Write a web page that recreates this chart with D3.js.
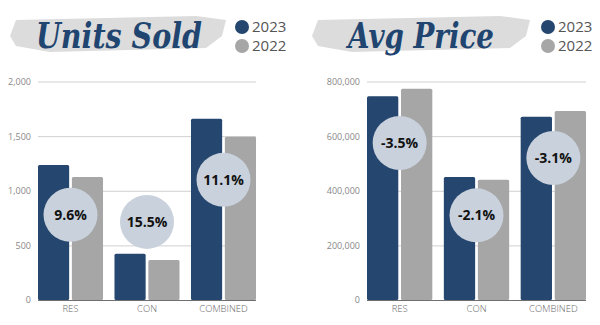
<!DOCTYPE html>
<html><head><meta charset="utf-8">
<script src="https://cdn.jsdelivr.net/npm/d3@7"></script>
<style>body{margin:0;background:#fff}svg{display:block}</style>
</head><body>
<script>
const categories = ["RES", "CON", "COMBINED"];
const seriesNames = ["2023", "2022"];
const units2023 = [1235, 424, 1659];
const units2022 = [1127, 367, 1494];
const unitsChange = ["9.6%", "15.5%", "11.1%"];
const unitsBadgeAt = [780, 715, 1100];
const unitsTicks = [0, 500, 1000, 1500, 2000];
const price2023 = [746000, 450000, 671000];
const price2022 = [773000, 440000, 692000];
const priceChange = ["-3.5%", "-2.1%", "-3.1%"];
const priceBadgeAt = [575000, 310000, 520000];
const priceTicks = [0, 200000, 400000, 600000, 800000];

const W = 600, H = 325;
const colors = {"2023": "#24466f", "2022": "#a6a6a6"};
const svg = d3.select("body").append("svg").attr("width", W).attr("height", H);

function panel(opt) {
  const g = svg.append("g");
  // brush stroke
  const b = opt.brush;
  const brush = d3.path();
  brush.moveTo(b[0] + 6, b[1] + 6);
  brush.lineTo(b[2] - 30, b[1] + 2);
  brush.lineTo(b[2], b[1] + 6);
  brush.lineTo(b[2] - 4, b[1] + 22);
  brush.lineTo(b[2] - 20, b[3] - 4);
  brush.lineTo(b[0] + 40, b[3]);
  brush.lineTo(b[0] + 6, b[3] - 6);
  brush.lineTo(b[0], b[1] + 22);
  brush.closePath();
  g.append("path").attr("d", brush.toString()).attr("fill", "#dcdcdc");
  g.append("text").attr("x", opt.titleX).attr("y", 48)
    .attr("font-family", "'DejaVu Serif', serif").attr("font-style", "italic").attr("font-weight", "bold")
    .attr("font-size", 36).attr("fill", "#1f4570")
    .attr("textLength", opt.titleW).attr("lengthAdjust", "spacingAndGlyphs")
    .text(opt.title);
  // legend
  seriesNames.forEach((s, i) => {
    g.append("circle").attr("cx", opt.legX).attr("cy", 27 + i * 19).attr("r", 7).attr("fill", colors[s]);
    g.append("text").attr("x", opt.legX + 10).attr("y", 27 + i * 19).attr("dy", "0.35em")
      .attr("font-family", "'Open Sans', sans-serif").attr("font-size", 15).attr("fill", "#555").text(s);
  });

  const x = d3.scaleBand().domain(categories).range([opt.x0, opt.x1]).paddingInner(0.15).paddingOuter(0);
  const xs = d3.scaleBand().domain(seriesNames).range([0, x.bandwidth()]).paddingInner(0.08);
  const y = d3.scaleLinear().domain([0, opt.ticks[opt.ticks.length - 1]]).range([300, 81.5]);

  const ax = g.append("g").attr("transform", `translate(${opt.x0},0)`)
    .call(d3.axisLeft(y).tickValues(opt.ticks).tickSize(-(opt.x1 - opt.x0)).tickPadding(7).tickFormat(d3.format(",")));
  ax.select(".domain").remove();
  ax.selectAll(".tick line").attr("stroke", "#d0d0d0").attr("stroke-width", 1);
  ax.selectAll(".tick text").attr("fill", "#888").attr("font-size", 9).attr("font-family", "'Open Sans', sans-serif");

  const rows = categories.map((c, i) => ({c, i, vals: [opt.a[i], opt.b[i]]}));
  const grp = g.selectAll(".grp").data(rows).enter().append("g").attr("transform", d => `translate(${x(d.c)},0)`);
  grp.selectAll("rect").data(d => d.vals.map((v, j) => ({s: seriesNames[j], v}))).enter().append("rect")
    .attr("x", d => xs(d.s)).attr("width", xs.bandwidth())
    .attr("y", d => y(d.v)).attr("height", d => y(0) - y(d.v))
    .attr("rx", 1.5).attr("fill", d => colors[d.s]);

  g.append("line").attr("x1", opt.x0).attr("x2", opt.x1).attr("y1", 300.5).attr("y2", 300.5).attr("stroke", "#555").attr("stroke-width", 0.8);

  const xa = g.append("g").attr("transform", "translate(0,300)")
    .call(d3.axisBottom(x).tickSize(0).tickPadding(5));
  xa.select(".domain").remove();
  xa.selectAll("text").attr("fill", "#666").attr("font-size", 9.5).attr("font-family", "'Open Sans', sans-serif").attr("font-weight", 300);

  // badges
  rows.forEach(d => {
    const cx = x(d.c) + x.bandwidth() / 2, cy = y(opt.badge[d.i]);
    g.append("circle").attr("cx", cx).attr("cy", cy).attr("r", 27).attr("fill", "#c9d1dc");
    g.append("text").attr("x", cx).attr("y", cy).attr("dy", "0.36em").attr("text-anchor", "middle")
      .attr("font-family", "'Open Sans', sans-serif").attr("font-weight", "bold").attr("font-size", 14)
      .attr("fill", "#111").text(opt.change[d.i]);
  });
}

panel({title: "Units Sold", titleX: 36, titleW: 166, brush: [10, 14, 226, 52], legX: 242,
  x0: 38, x1: 256, ticks: unitsTicks, a: units2023, b: units2022, change: unitsChange, badge: unitsBadgeAt});
panel({title: "Avg Price", titleX: 348, titleW: 146, brush: [312, 14, 530, 52], legX: 548,
  x0: 367, x1: 586, ticks: priceTicks, a: price2023, b: price2022, change: priceChange, badge: priceBadgeAt});
</script>
</body></html>
